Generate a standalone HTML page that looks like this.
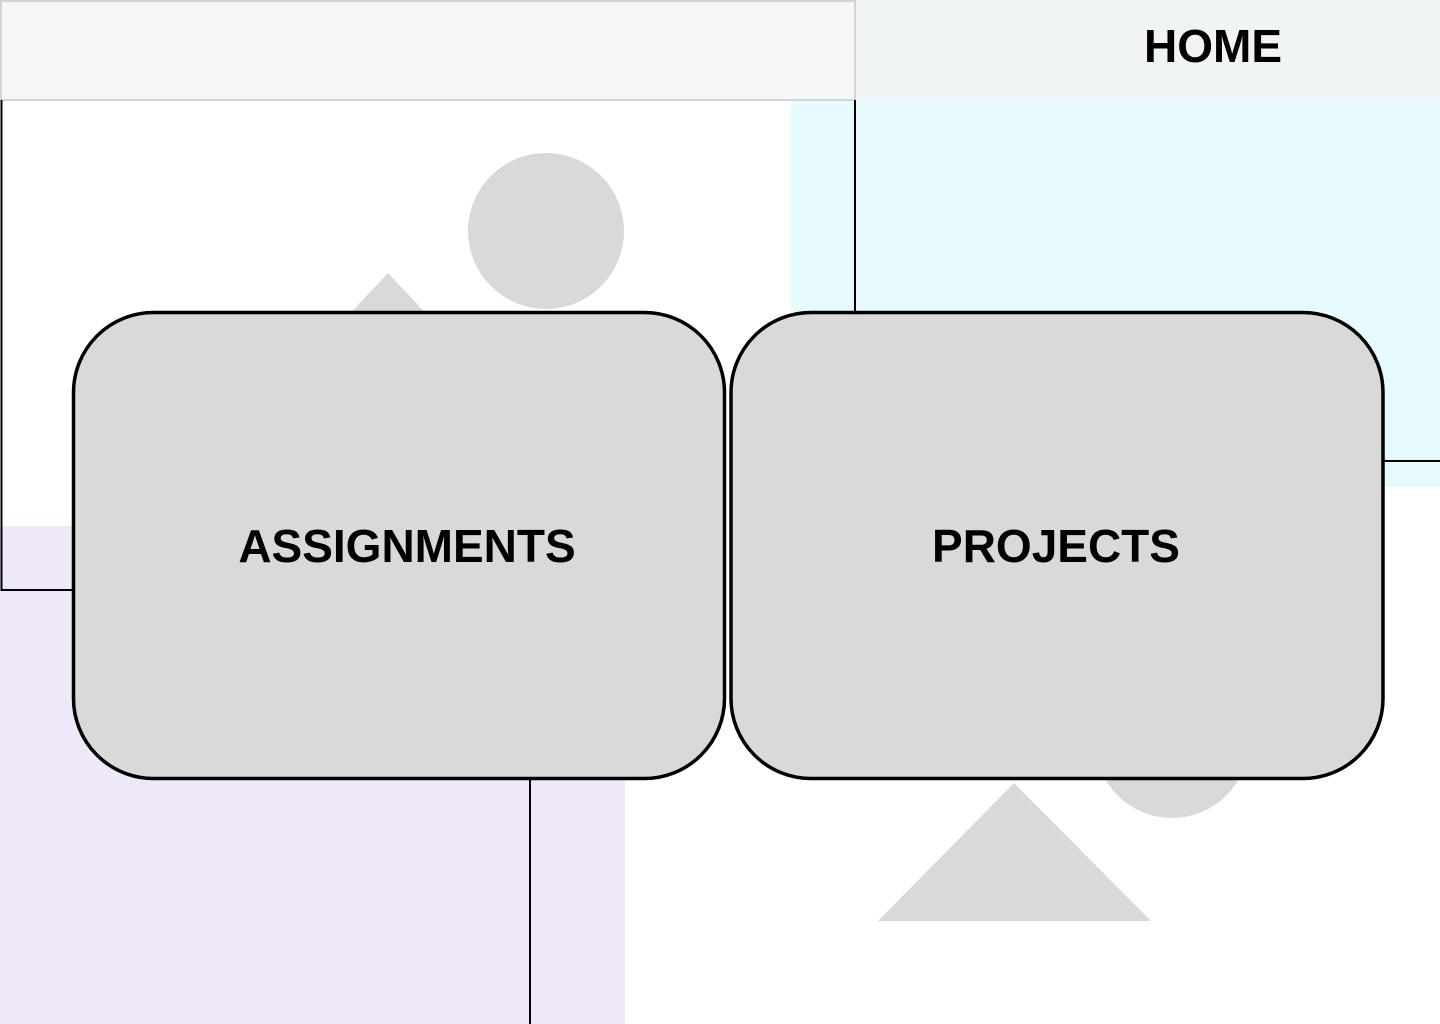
<!DOCTYPE html>
<html><head><meta charset="utf-8"><style>
html,body{margin:0;padding:0;width:1440px;height:1024px;overflow:hidden;background:#fff;font-family:"Liberation Sans",sans-serif}
</style></head><body>
<svg width="1440" height="1024" viewBox="0 0 1440 1024" xmlns="http://www.w3.org/2000/svg" style="position:absolute;left:0;top:0">
<rect x="791" y="100" width="649" height="387" fill="#e6f9fd"/>
<rect x="0" y="526" width="625" height="498" fill="#efe7fa"/>
<rect x="0" y="0" width="1440" height="100" fill="#f1f4f5"/>
<rect x="1" y="1" width="854" height="99" fill="#f6f6f6" fill-opacity="0.85" stroke="#c8c8c8" stroke-width="1.5"/>
<path d="M1.5 100 V590 H73" fill="none" stroke="#000" stroke-width="2"/>
<path d="M855 100 V312" fill="none" stroke="#000" stroke-width="2"/>
<path d="M530 779 V1024" fill="none" stroke="#000" stroke-width="2"/>
<path d="M1383 461 H1440" fill="none" stroke="#000" stroke-width="2"/>
<circle cx="546" cy="231" r="78" fill="#d9d9d9"/>
<polygon points="388,273 250,420 526,420" fill="#d9d9d9"/>
<circle cx="1172" cy="741" r="77" fill="#d9d9d9"/>
<polygon points="1014,783 878,921 1151,921" fill="#d9d9d9"/>
<rect x="73.5" y="312.5" width="651" height="466" rx="80" ry="80" fill="#d9d9d9" stroke="#000" stroke-width="3.5"/>
<rect x="731" y="312.5" width="652" height="466" rx="80" ry="80" fill="#d9d9d9" stroke="#000" stroke-width="3.5"/>
<text x="407" y="562" text-anchor="middle" font-family="Liberation Sans, sans-serif" font-weight="bold" font-size="46" fill="#000">ASSIGNMENTS</text>
<text x="1056" y="562" text-anchor="middle" font-family="Liberation Sans, sans-serif" font-weight="bold" font-size="46" fill="#000">PROJECTS</text>
<text x="1213" y="62" text-anchor="middle" font-family="Liberation Sans, sans-serif" font-weight="bold" font-size="46" fill="#000">HOME</text>
</svg>
</body></html>
